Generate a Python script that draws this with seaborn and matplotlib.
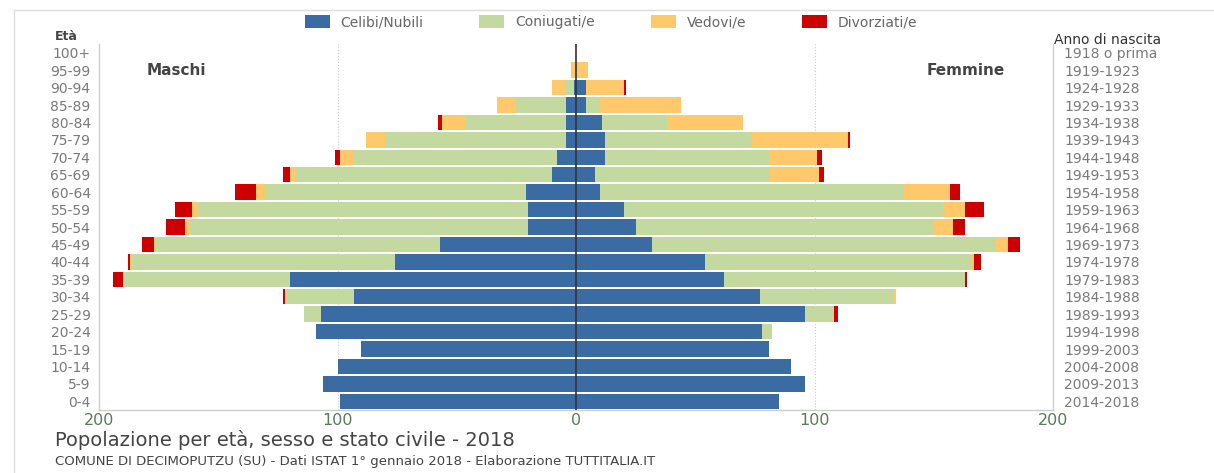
import matplotlib
matplotlib.use("Agg")
import matplotlib.pyplot as plt
from matplotlib.patches import Patch
from matplotlib.lines import Line2D
import numpy as np
import pandas as pd
import seaborn as sns

# ─── Data (top row = oldest) ────────────────────────────────────────────────
ages = ["100+", "95-99", "90-94", "85-89", "80-84", "75-79", "70-74", "65-69",
        "60-64", "55-59", "50-54", "45-49", "40-44", "35-39", "30-34", "25-29",
        "20-24", "15-19", "10-14", "5-9", "0-4"]
birth_years = ["1918 o prima", "1919-1923", "1924-1928", "1929-1933", "1934-1938",
               "1939-1943", "1944-1948", "1949-1953", "1954-1958", "1959-1963",
               "1964-1968", "1969-1973", "1974-1978", "1979-1983", "1984-1988",
               "1989-1993", "1994-1998", "1999-2003", "2004-2008", "2009-2013",
               "2014-2018"]

# Maschi
celibi_m     = [0, 0, 1, 4, 4, 4, 8, 10, 21, 20, 20, 57, 76, 120, 93, 107, 109, 90, 100, 106, 99]
coniugati_m  = [0, 0, 3, 21, 42, 76, 85, 108, 109, 139, 142, 119, 110, 70, 29, 7, 0, 0, 0, 0, 0]
vedovi_m     = [0, 2, 6, 8, 10, 8, 6, 2, 4, 2, 2, 1, 1, 0, 0, 0, 0, 0, 0, 0, 0]
divorziati_m = [0, 0, 0, 0, 2, 0, 2, 3, 9, 7, 8, 5, 1, 4, 1, 0, 0, 0, 0, 0, 0]

# Femmine
nubili_f     = [0, 0, 4, 4, 11, 12, 12, 8, 10, 20, 25, 32, 54, 62, 77, 96, 78, 81, 90, 96, 85]
coniugate_f  = [0, 0, 0, 6, 27, 62, 69, 73, 127, 134, 125, 144, 112, 101, 56, 12, 4, 0, 0, 0, 0]
vedove_f     = [0, 5, 16, 34, 32, 40, 20, 21, 20, 9, 8, 5, 1, 0, 1, 0, 0, 0, 0, 0, 0]
divorziate_f = [0, 0, 1, 0, 0, 1, 2, 2, 4, 8, 5, 5, 3, 1, 0, 2, 0, 0, 0, 0, 0]

status_labels = ["Celibi/Nubili", "Coniugati/e", "Vedovi/e", "Divorziati/e"]
colors = ["#3b6ba3", "#c4d9a0", "#fdc96b", "#cc0000"]

# ─── Figure ─────────────────────────────────────────────────────────────────
sns.set_theme(style="white")
plt.rcParams["font.family"] = ["DejaVu Sans"]

fig = plt.figure(figsize=(12.14, 4.73), dpi=100)
ax = fig.add_axes([99 / 1214, 1 - 410 / 473, (1053 - 99) / 1214, (410 - 44) / 473])

m_cum = np.cumsum(np.array([celibi_m, coniugati_m, vedovi_m, divorziati_m]), axis=0)
f_cum = np.cumsum(np.array([nubili_f, coniugate_f, vedove_f, divorziate_f]), axis=0)

# stacked by overlaying cumulative sums, outermost first
for i in range(3, -1, -1):
    df = pd.DataFrame({"age": ages, "m": -m_cum[i], "f": f_cum[i]})
    for col in ["m", "f"]:
        sns.barplot(data=df, x=col, y="age", order=ages, orient="h",
                    color=colors[i], saturation=1, width=0.88,
                    linewidth=0, errorbar=None, ax=ax)

ax.set_xlim(-200, 200)
ax.set_xlabel("")
ax.set_ylabel("")
ax.set_xticks([-200, -100, 0, 100, 200])
ax.set_xticklabels(["200", "100", "0", "100", "200"])
ax.tick_params(axis="x", colors="#5b7a5b", labelsize=11.5, length=0, pad=2)
ax.tick_params(axis="y", colors="#7a7a7a", labelsize=10, length=0, pad=6)

for v in [-100, 100]:
    ax.axvline(v, color="#cccccc", lw=0.8, ls=":", zorder=0)
ax.axvline(0, color="#333333", lw=1.2, zorder=5)

ax.spines["top"].set_visible(False)
for s in ["left", "right", "bottom"]:
    ax.spines[s].set_color("#cccccc")
    ax.spines[s].set_linewidth(1)

# right axis: birth years
ax2 = ax.twinx()
ax2.set_ylim(ax.get_ylim())
ax2.set_yticks(range(len(birth_years)))
ax2.set_yticklabels(birth_years)
ax2.tick_params(axis="y", colors="#7a7a7a", labelsize=10, length=0, pad=8)
for s in ax2.spines.values():
    s.set_visible(False)
ax2.grid(False)

fig.text(66 / 1214, 1 - 37 / 473, "Età", fontsize=9, fontweight="bold",
         color="#444444", ha="center", va="center")
fig.text(1054 / 1214, 1 - 40 / 473, "Anno di nascita", fontsize=10,
         color="#333333", ha="left", va="center")
ax.text(-180, 1, "Maschi", fontsize=11, fontweight="bold", color="#444444",
        ha="left", va="center")
ax.text(180, 1, "Femmine", fontsize=11, fontweight="bold", color="#444444",
        ha="right", va="center")

handles = [Patch(facecolor=c, edgecolor="none") for c in colors]
leg = fig.legend(handles, status_labels, ncol=4, frameon=False,
                 loc="center", bbox_to_anchor=(611 / 1214, 1 - 22 / 473),
                 fontsize=10, handlelength=1.8, handleheight=1.1,
                 columnspacing=4.0, handletextpad=0.8)
for t in leg.get_texts():
    t.set_color("#666666")

fig.text(55 / 1214, 1 - 440 / 473, "Popolazione per età, sesso e stato civile - 2018",
         fontsize=14, color="#444444", ha="left", va="center")
fig.text(55 / 1214, 1 - 461 / 473,
         "COMUNE DI DECIMOPUTZU (SU) - Dati ISTAT 1° gennaio 2018 - Elaborazione TUTTITALIA.IT",
         fontsize=9.5, color="#444444", ha="left", va="center")

# light frame on top and left
fig.add_artist(Line2D([14 / 1214, 1], [1 - 10 / 473, 1 - 10 / 473],
                      transform=fig.transFigure, color="#dddddd", lw=1))
fig.add_artist(Line2D([14 / 1214, 14 / 1214], [0, 1 - 10 / 473],
                      transform=fig.transFigure, color="#dddddd", lw=1))

fig.savefig("out.png", dpi=100)
